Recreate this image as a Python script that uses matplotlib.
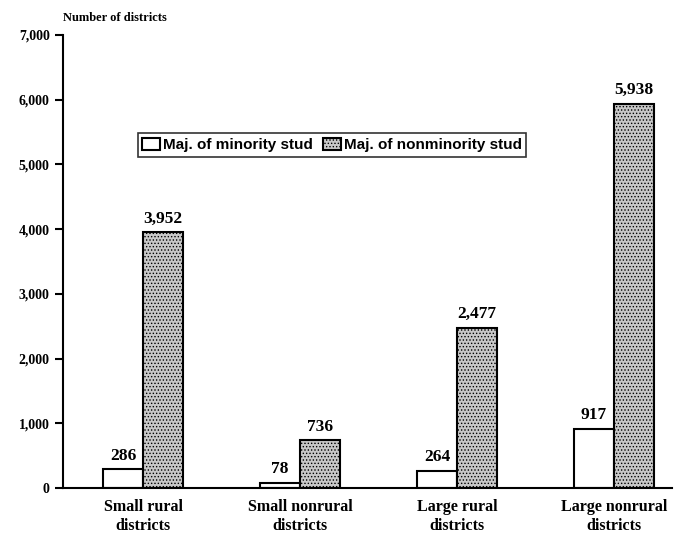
import matplotlib
matplotlib.use("Agg")
import matplotlib.pyplot as plt
import numpy as np

categories = ["Small rural\ndistricts", "Small nonrural\ndistricts", "Large rural\ndistricts", "Large nonrural\ndistricts"]
minority = [286, 78, 264, 917]
nonminority = [3952, 736, 2477, 5938]
series_names = ["Maj. of minority stud", "Maj. of nonminority stud"]
yticks = [0, 1000, 2000, 3000, 4000, 5000, 6000, 7000]

plt.rcParams['font.family'] = ['Liberation Serif', 'DejaVu Serif']
plt.rcParams['font.weight'] = 'bold'
plt.rcParams['hatch.color'] = '#555555'
plt.rcParams['hatch.linewidth'] = 0.6

fig = plt.figure(figsize=(6.83, 5.36), dpi=100)
ax = fig.add_axes([63/683, 1-488/536, (672-63)/683, (488-35)/536])

x = np.arange(len(categories))
w = 0.255
b1 = ax.bar(x - w/2, minority, w, color='white', edgecolor='black', linewidth=1.5, label=series_names[0])
b2 = ax.bar(x + w/2, nonminority, w, color='#c8c8c8', edgecolor='black', linewidth=1.5, hatch='.....', label=series_names[1])

for bars, vals in ((b1, minority), (b2, nonminority)):
    for r, v in zip(bars, vals):
        ax.text(r.get_x() + r.get_width()/2, v + 90, f"{v:,}", ha='center', va='bottom',
                fontsize=12.5, fontweight='bold')

ax.set_xlim(-0.51, 3.37)
ax.set_ylim(0, 7000)
ax.set_yticks(yticks)
ax.set_yticklabels([f"{t:,}" for t in yticks], fontsize=10, fontweight='bold')
ax.set_xticks(x)
ax.set_xticklabels(categories, fontsize=11.5, fontweight='bold', linespacing=1.25)
ax.tick_params(axis='x', length=0, pad=8)
ax.tick_params(axis='y', length=6, width=1.5, direction='out')
for s in ['top', 'right']:
    ax.spines[s].set_visible(False)
ax.spines['left'].set_linewidth(1.5)
ax.spines['bottom'].set_linewidth(1.5)

leg = ax.legend(loc='center', bbox_to_anchor=(((137+527)/2 - 63)/609, (488-145)/453),
                ncol=2, frameon=True, fancybox=False, edgecolor='black',
                handlelength=1.2, handleheight=0.8, handletextpad=0.2, columnspacing=0.6,
                borderpad=0.3, prop={'family': ['Liberation Sans', 'DejaVu Sans'], 'weight': 'bold', 'size': 11})
leg.get_frame().set_linewidth(1.2)

fig.text(63/683, 1-18/536, "Number of districts", fontsize=9, fontweight='bold', va='center', ha='left')

fig.savefig("out.png", dpi=100, facecolor='white')
